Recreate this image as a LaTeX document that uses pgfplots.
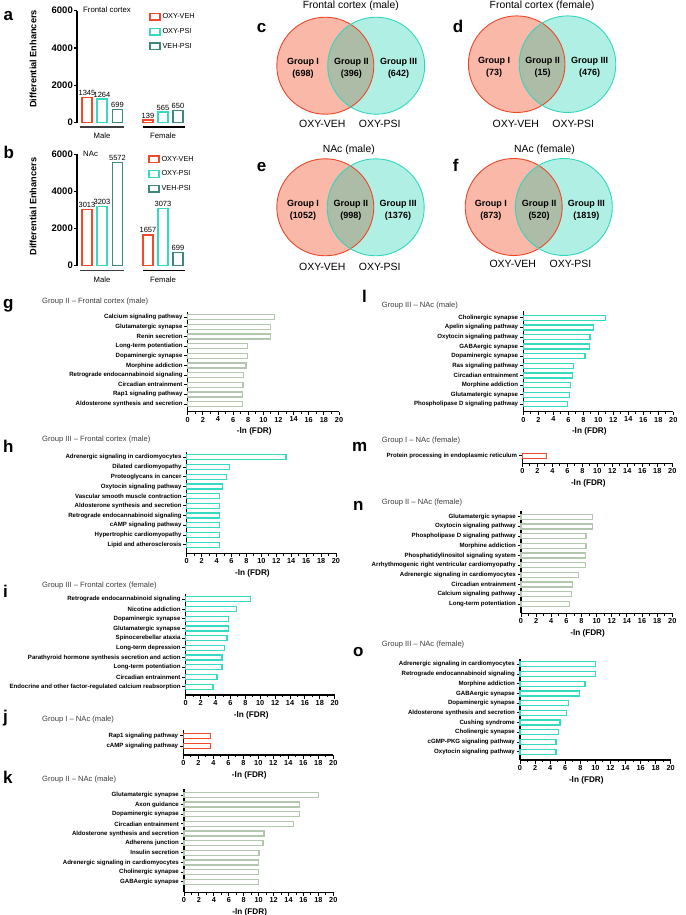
\documentclass[border=0pt]{standalone}
\usepackage{fontspec}
\setmainfont{Liberation Sans}
\usepackage{pgfplots}
\pgfplotsset{compat=1.18}
\definecolor{cRed}{RGB}{242,72,44}
\definecolor{cTeal}{RGB}{52,218,194}
\definecolor{cDark}{RGB}{62,135,124}
\definecolor{cII}{RGB}{178,199,174}
\definecolor{vRedF}{RGB}{249,184,168}
\definecolor{vTealF}{RGB}{176,240,228}
\definecolor{vOv}{RGB}{173,188,166}
\definecolor{vRedS}{RGB}{240,70,40}
\definecolor{vTealS}{RGB}{50,214,190}
\definecolor{tgray}{RGB}{60,60,60}
\newcommand{\letterfont}{\bfseries\fontsize{17}{17}\selectfont}
\newcommand{\vtitle}{\fontsize{10.4}{12}\selectfont}
\newcommand{\vgroup}{\bfseries\fontsize{9}{11.6}\selectfont}
\newcommand{\vcond}{\fontsize{10.5}{12}\selectfont}
\newcommand{\htitle}{\fontsize{7.6}{9}\selectfont}
\newcommand{\catfont}{\bfseries\fontsize{6.1}{7}\selectfont}
\newcommand{\numfont}{\bfseries\fontsize{7.3}{8}\selectfont}
\newcommand{\labfont}{\bfseries\fontsize{8.2}{9}\selectfont}
\pgfplotsset{
  /pgf/number format/assume math mode=true,
  /pgf/number format/1000 sep={},
  hbar/.style={
    scale only axis, clip=false,
    xmin=0, xmax=20, xtick={0,2,...,20}, minor x tick num=1,
    axis x line*=bottom, axis y line*=left,
    axis line style={line width=1.1pt, -},
    tick align=outside, major tick length=3.5pt, minor tick length=2.2pt,
    every tick/.style={black, line width=0.9pt},
    yticklabel style={font=\catfont, inner sep=1.5pt},
    xticklabel style={font=\numfont, inner sep=1.5pt},
    xlabel={-ln (FDR)},
    xlabel style={font=\labfont, at={(axis description cs:0.44,0)}, anchor=center, yshift=-20pt},
  },
  hb/.style={xbar, bar shift=0pt, bar width=5pt, fill=white, line width=1.3pt},
  vb/.style={
    scale only axis, clip=false, width=111pt,
    xmin=0, xmax=111, ymin=0, ymax=6000, ytick={0,2000,4000,6000},
    scaled y ticks=false,
    axis y line*=left, axis x line=none,
    axis line style={line width=1.4pt, -},
    tick align=outside, major tick length=3pt,
    every tick/.style={black, line width=1.2pt},
    yticklabel style={font=\bfseries\fontsize{9.5}{10}\selectfont, inner sep=1pt},
    ylabel={Differential Enhancers},
    ylabel style={font=\bfseries\fontsize{9.2}{10}\selectfont},
    legend style={draw=none, fill=none, inner sep=0pt, font=\fontsize{7.3}{8}\selectfont,
      row sep=4.2pt, cells={anchor=west}},
  },
  vbar/.style={ybar, bar shift=0pt, bar width=10pt, fill=white, line width=1.4pt,
    nodes near coords,
    every node near coord/.append style={font=\fontsize{7.5}{8}\selectfont, text=black, inner sep=1.2pt},
    legend image code/.code={\draw[##1, fill=white, line width=1.3pt] (0pt,-3.3pt) rectangle (10pt,3.3pt);}},
}
\begin{document}
\begin{tikzpicture}
\path[use as bounding box] (0pt,0pt) rectangle (685pt,-915pt);

% ---------- panel a ----------
\begin{axis}[vb, at={(77pt,-122.7pt)}, anchor=south west, height=112pt,
  ylabel style={at={(axis description cs:-0.396,0.569)}, anchor=center},
  legend style={at={(axis description cs:0.649,0.995)}, anchor=north west}]
\addplot[vbar, draw=cRed] coordinates {(10,1345) (71,139)}; \addlegendentry{OXY-VEH}
\addplot[vbar, draw=cTeal] coordinates {(25,1264) (86,565)}; \addlegendentry{OXY-PSI}
\addplot[vbar, draw=cDark] coordinates {(40.5,699) (101,650)}; \addlegendentry{VEH-PSI}
\draw[line width=1.3pt, tgray] ([yshift=-4.3pt]axis cs:3,0) -- ([yshift=-4.3pt]axis cs:47,0);
\draw[line width=1.3pt, black] ([yshift=-4.3pt]axis cs:66,0) -- ([yshift=-4.3pt]axis cs:108,0);
\node[font=\fontsize{7.7}{8}\selectfont] at ([yshift=-13.5pt]axis cs:25,0) {Male};
\node[font=\fontsize{7.7}{8}\selectfont] at ([yshift=-13.5pt]axis cs:86,0) {Female};
\node[anchor=west, font=\fontsize{7.8}{9}\selectfont, inner sep=0pt] at (axis description cs:0.054,1.006) {Frontal cortex};
\end{axis}

% ---------- panel b ----------
\begin{axis}[vb, at={(77pt,-265.7pt)}, anchor=south west, height=111.4pt,
  ylabel style={at={(axis description cs:-0.396,0.53)}, anchor=center},
  legend style={at={(axis description cs:0.64,1.005)}, anchor=north west}]
\addplot[vbar, draw=cRed] coordinates {(10,3013) (71,1657)}; \addlegendentry{OXY-VEH}
\addplot[vbar, draw=cTeal] coordinates {(25,3203) (86,3073)}; \addlegendentry{OXY-PSI}
\addplot[vbar, draw=cDark] coordinates {(40.5,5572) (101,699)}; \addlegendentry{VEH-PSI}
\draw[line width=1.3pt, tgray] ([yshift=-4.8pt]axis cs:3,0) -- ([yshift=-4.8pt]axis cs:47,0);
\draw[line width=1.3pt, black] ([yshift=-4.8pt]axis cs:66,0) -- ([yshift=-4.8pt]axis cs:108,0);
\node[font=\fontsize{7.7}{8}\selectfont] at ([yshift=-14.5pt]axis cs:25,0) {Male};
\node[font=\fontsize{7.7}{8}\selectfont] at ([yshift=-14.5pt]axis cs:86,0) {Female};
\node[anchor=west, font=\fontsize{7.8}{9}\selectfont, inner sep=0pt] at (axis description cs:0.054,1.0) {NAc};
\end{axis}

% ---------- g ----------
\begin{axis}[hbar, at={(187.7pt,-411.7pt)}, anchor=south west, width=151.3pt, height=100pt,
  ymin=-0.8, ymax=9.58, ytick={0,...,9},
  yticklabels={Aldosterone synthesis and secretion, Rap1 signaling pathway, Circadian entrainment, Retrograde endocannabinoid signaling, Morphine addiction, Dopaminergic synapse, Long-term potentiation, Renin secretion, Glutamatergic synapse, Calcium signaling pathway}]
\addplot[hb, draw=cII] coordinates {(11.5,9) (10.9,8) (10.9,7) (7.9,6) (7.9,5) (7.7,4) (7.4,3) (7.3,2) (7.2,1) (7.2,0)};
\end{axis}

% ---------- h ----------
\begin{axis}[hbar, at={(186.7pt,-553.3pt)}, anchor=south west, width=149.3pt, height=101.6pt,
  ymin=-0.886, ymax=9.58, ytick={0,...,9},
  yticklabels={Lipid and atherosclerosis, Hypertrophic cardiomyopathy, cAMP signaling pathway, Retrograde endocannabinoid signaling, Aldosterone synthesis and secretion, Vascular smooth muscle contraction, Oxytocin signaling pathway, Proteoglycans in cancer, Dilated cardiomyopathy, Adrenergic signaling in cardiomyocytes}]
\addplot[hb, draw=cTeal] coordinates {(13.3,9) (5.7,8) (5.35,7) (4.75,6) (4.42,5) (4.42,4) (4.38,3) (4.36,2) (4.35,1) (4.35,0)};
\end{axis}

% ---------- i ----------
\begin{axis}[hbar, at={(185.7pt,-695pt)}, anchor=south west, width=149pt, height=101.3pt,
  ymin=-0.855, ymax=9.58, ytick={0,...,9},
  yticklabels={Endocrine and other factor-regulated calcium reabsorption, Circadian entrainment, Long-term potentiation, Parathyroid hormone synthesis secretion and action, Long-term depression, Spinocerebellar ataxia, Glutamatergic synapse, Dopaminergic synapse, Nicotine addiction, Retrograde endocannabinoid signaling}]
\addplot[hb, draw=cTeal] coordinates {(8.7,9) (6.85,8) (5.77,7) (5.77,6) (5.55,5) (5.19,4) (4.88,3) (4.88,2) (4.2,1) (3.67,0)};
\end{axis}

% ---------- j ----------
\begin{axis}[hbar, at={(183.3pt,-755pt)}, anchor=south west, width=150pt, height=25pt,
  ymin=-0.82, ymax=1.54, ytick={0,1},
  yticklabels={cAMP signaling pathway, Rap1 signaling pathway}]
\addplot[hb, draw=cRed] coordinates {(3.6,1) (3.6,0)};
\end{axis}

% ---------- k ----------
\begin{axis}[hbar, at={(184pt,-892.3pt)}, anchor=south west, width=149.3pt, height=103pt,
  ymin=-1.1, ymax=9.59, ytick={0,...,9},
  yticklabels={GABAergic synapse, Cholinergic synapse, Adrenergic signaling in cardiomyocytes, Insulin secretion, Adherens junction, Aldosterone synthesis and secretion, Circadian entrainment, Dopaminergic synapse, Axon guidance, Glutamatergic synapse}]
\addplot[hb, draw=cII] coordinates {(18.0,9) (15.45,8) (15.45,7) (14.64,6) (10.7,5) (10.6,4) (10.04,3) (9.96,2) (9.96,1) (9.96,0)};
\end{axis}

% ---------- l ----------
\begin{axis}[hbar, at={(523.3pt,-411.7pt)}, anchor=south west, width=150pt, height=100.7pt,
  ymin=-0.77, ymax=9.7, ytick={0,...,9},
  yticklabels={Phospholipase D signaling pathway, Glutamatergic synapse, Morphine addiction, Circadian entrainment, Ras signaling pathway, Dopaminergic synapse, GABAergic synapse, Oxytocin signaling pathway, Apelin signaling pathway, Cholinergic synapse}]
\addplot[hb, draw=cTeal] coordinates {(10.98,9) (9.33,8) (8.89,7) (8.8,6) (8.22,5) (6.67,4) (6.53,3) (6.31,2) (6.13,1) (5.87,0)};
\end{axis}

% ---------- m ----------
\begin{axis}[hbar, at={(522.3pt,-463.3pt)}, anchor=south west, width=150pt, height=10.6pt,
  ymin=-0.76, ymax=0.3, ytick={0},
  yticklabels={Protein processing in endoplasmic reticulum}]
\addplot[hb, draw=cRed] coordinates {(3.24,0)};
\end{axis}

% ---------- n ----------
\begin{axis}[hbar, at={(521pt,-613.3pt)}, anchor=south west, width=151.3pt, height=102.6pt,
  ymin=-0.96, ymax=9.62, ytick={0,...,9},
  yticklabels={Long-term potentiation, Calcium signaling pathway, Circadian entrainment, Adrenergic signaling in cardiomyocytes, Arrhythmogenic right ventricular cardiomyopathy, Phosphatidylinositol signaling system, Morphine addiction, Phospholipase D signaling pathway, Oxytocin signaling pathway, Glutamatergic synapse}]
\addplot[hb, draw=cII] coordinates {(9.43,9) (9.43,8) (8.59,7) (8.59,6) (8.5,5) (8.5,4) (7.58,3) (6.78,2) (6.7,1) (6.39,0)};
\end{axis}

% ---------- o ----------
\begin{axis}[hbar, at={(520pt,-760pt)}, anchor=south west, width=150.7pt, height=101.5pt,
  ymin=-0.855, ymax=9.6, ytick={0,...,9},
  yticklabels={Oxytocin signaling pathway, cGMP-PKG signaling pathway, Cholinergic synapse, Cushing syndrome, Aldosterone synthesis and secretion, Dopaminergic synapse, GABAergic synapse, Morphine addiction, Retrograde endocannabinoid signaling, Adrenergic signaling in cardiomyocytes}]
\addplot[hb, draw=cTeal] coordinates {(10.04,9) (10.04,8) (8.63,7) (7.88,6) (6.42,5) (6.19,4) (5.31,3) (5.13,2) (4.78,1) (4.78,0)};
\end{axis}

% ---------- canvas: Venn diagrams and free text ----------
\begin{axis}[scale only axis, hide axis, clip=false, at={(0pt,-915pt)}, anchor=south west,
  width=685pt, height=915pt, xmin=0, xmax=685, ymin=-915, ymax=0]
% c
\fill[vRedF] (325.3,-65.7) circle[radius=48.5];
\fill[vTealF] (376.2,-65.7) circle[radius=48.5];
\begin{scope}\clip (325.3,-65.7) circle[radius=48.5]; \fill[vOv] (376.2,-65.7) circle[radius=48.5];\end{scope}
\draw[vRedS, line width=0.9pt] (325.3,-65.7) circle[radius=48.5];
\draw[vTealS, line width=0.9pt] (376.2,-65.7) circle[radius=48.5];
% d
\fill[vRedF] (516.7,-64.2) circle[radius=48.3];
\fill[vTealF] (567.5,-64.2) circle[radius=48.3];
\begin{scope}\clip (516.7,-64.2) circle[radius=48.3]; \fill[vOv] (567.5,-64.2) circle[radius=48.3];\end{scope}
\draw[vRedS, line width=0.9pt] (516.7,-64.2) circle[radius=48.3];
\draw[vTealS, line width=0.9pt] (567.5,-64.2) circle[radius=48.3];
% e
\fill[vRedF] (325.3,-207.3) circle[radius=48.5];
\fill[vTealF] (375.7,-207.3) circle[radius=48.5];
\begin{scope}\clip (325.3,-207.3) circle[radius=48.5]; \fill[vOv] (375.7,-207.3) circle[radius=48.5];\end{scope}
\draw[vRedS, line width=0.9pt] (325.3,-207.3) circle[radius=48.5];
\draw[vTealS, line width=0.9pt] (375.7,-207.3) circle[radius=48.5];
% f
\fill[vRedF] (513.7,-207) circle[radius=48.5];
\fill[vTealF] (563.8,-207) circle[radius=48.5];
\begin{scope}\clip (513.7,-207) circle[radius=48.5]; \fill[vOv] (563.8,-207) circle[radius=48.5];\end{scope}
\draw[vRedS, line width=0.9pt] (513.7,-207) circle[radius=48.5];
\draw[vTealS, line width=0.9pt] (563.8,-207) circle[radius=48.5];

% Venn texts
\node[font=\vtitle] at (350.8,-5.5) {Frontal cortex (male)};
\node[font=\vtitle] at (542,-5.5) {Frontal cortex (female)};
\node[font=\vtitle] at (348.8,-150) {NAc (male)};
\node[font=\vtitle] at (544.5,-150) {NAc (female)};
\node[font=\vgroup, align=center] at (303,-68.5) {Group I\\(698)};
\node[font=\vgroup, align=center] at (351.3,-68.5) {Group II\\(396)};
\node[font=\vgroup, align=center] at (398.5,-68.5) {Group III\\(642)};
\node[font=\vgroup, align=center] at (494,-67.5) {Group I\\(73)};
\node[font=\vgroup, align=center] at (542.7,-67.5) {Group II\\(15)};
\node[font=\vgroup, align=center] at (589.5,-67.5) {Group III\\(476)};
\node[font=\vgroup, align=center] at (303,-210.5) {Group I\\(1052)};
\node[font=\vgroup, align=center] at (350.8,-210.5) {Group II\\(998)};
\node[font=\vgroup, align=center] at (398,-210.5) {Group III\\(1376)};
\node[font=\vgroup, align=center] at (490.8,-210) {Group I\\(873)};
\node[font=\vgroup, align=center] at (539,-210) {Group II\\(520)};
\node[font=\vgroup, align=center] at (586.3,-210) {Group III\\(1819)};
\node[font=\vcond] at (322.3,-124) {OXY-VEH};
\node[font=\vcond] at (379.8,-124) {OXY-PSI};
\node[font=\vcond] at (515.8,-124) {OXY-VEH};
\node[font=\vcond] at (573.3,-124) {OXY-PSI};
\node[font=\vcond] at (322.3,-266.7) {OXY-VEH};
\node[font=\vcond] at (379.8,-266.7) {OXY-PSI};
\node[font=\vcond] at (512.7,-264.3) {OXY-VEH};
\node[font=\vcond] at (570.5,-264.3) {OXY-PSI};

% bar-chart titles
\node[anchor=west, font=\htitle, text=tgray, inner sep=0pt] at (42,-301.7) {Group II -- Frontal cortex (male)};
\node[anchor=west, font=\htitle, text=tgray, inner sep=0pt] at (42,-439.3) {Group III -- Frontal cortex (male)};
\node[anchor=west, font=\htitle, text=tgray, inner sep=0pt] at (42,-586) {Group III -- Frontal cortex (female)};
\node[anchor=west, font=\htitle, text=tgray, inner sep=0pt] at (42,-720) {Group I -- NAc (male)};
\node[anchor=west, font=\htitle, text=tgray, inner sep=0pt] at (42,-779.3) {Group II -- NAc (male)};
\node[anchor=west, font=\htitle, text=tgray, inner sep=0pt] at (381.7,-306) {Group III -- NAc (male)};
\node[anchor=west, font=\htitle, text=tgray, inner sep=0pt] at (381.7,-440.7) {Group I -- NAc (female)};
\node[anchor=west, font=\htitle, text=tgray, inner sep=0pt] at (381.7,-502.7) {Group II -- NAc (female)};
\node[anchor=west, font=\htitle, text=tgray, inner sep=0pt] at (381.7,-644.3) {Group III -- NAc (female)};

% panel letters
\node[anchor=base west, font=\letterfont, inner sep=0pt] at (3.3,-20.7) {a};
\node[anchor=base west, font=\letterfont, inner sep=0pt] at (3.3,-158.3) {b};
\node[anchor=base west, font=\letterfont, inner sep=0pt] at (256.7,-32.3) {c};
\node[anchor=base west, font=\letterfont, inner sep=0pt] at (452.7,-32.3) {d};
\node[anchor=base west, font=\letterfont, inner sep=0pt] at (256.7,-171.7) {e};
\node[anchor=base west, font=\letterfont, inner sep=0pt] at (452.7,-171.7) {f};
\node[anchor=base west, font=\letterfont, inner sep=0pt] at (3,-308) {g};
\node[anchor=base west, font=\letterfont, inner sep=0pt] at (3,-452) {h};
\node[anchor=base west, font=\letterfont, inner sep=0pt] at (3,-597) {i};
\node[anchor=base west, font=\letterfont, inner sep=0pt] at (3,-722) {j};
\node[anchor=base west, font=\letterfont, inner sep=0pt] at (3,-783) {k};
\node[anchor=base west, font=\letterfont, inner sep=0pt] at (362,-302) {l};
\node[anchor=base west, font=\letterfont, inner sep=0pt] at (352,-451) {m};
\node[anchor=base west, font=\letterfont, inner sep=0pt] at (353,-510) {n};
\node[anchor=base west, font=\letterfont, inner sep=0pt] at (353,-656) {o};
\end{axis}
\end{tikzpicture}
\end{document}
